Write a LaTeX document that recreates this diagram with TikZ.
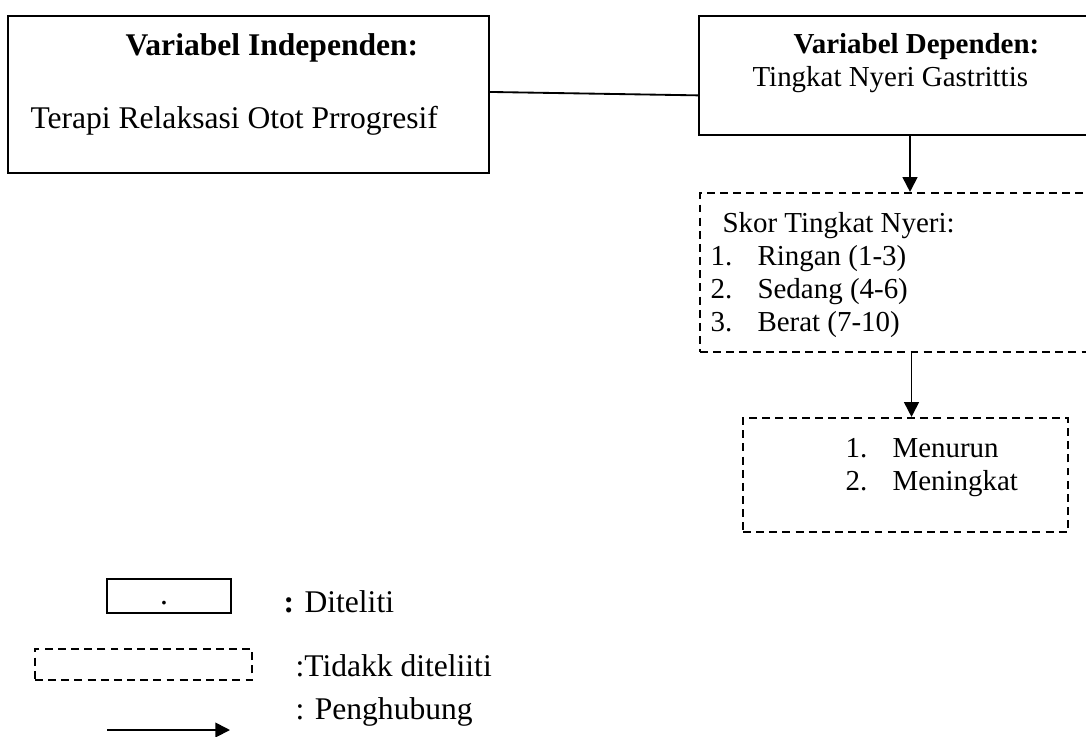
\documentclass[tikz,border=0pt]{standalone}
\usepackage{fontspec}
\setmainfont{Liberation Serif}
\usetikzlibrary{arrows.meta,positioning,calc,fit}
\tikzset{
  >={Triangle[length=5.6pt,width=5.6pt]},
  box/.style={draw=black,line width=0.8pt,inner sep=0pt},
  dashed box/.style={box,dash pattern=on 3pt off 2pt},
  flow/.style={->,line width=0.7pt},
  tag/.style={anchor=base west,inner sep=0pt,font=\fontsize{11}{13}\selectfont},
  big tag/.style={tag,font=\fontsize{12}{14}\selectfont},
}
\begin{document}
\begin{tikzpicture}[x=0.38pt,y=-0.38pt]
  \clip (0,0) rectangle (1086,736);
  % variables
  \node[box,fit={(8,16) (489,173)}] (indep) {};
  \node[big tag] (indep-h) at (125,55) {\bfseries Variabel Independen:};
  \node[big tag] (indep-t) at (30,128) {Terapi Relaksasi Otot Prrogresif};
  \node[box,fit={(699,16) (1095,135)}] (dep) {};
  \node[tag] (dep-h) at (793,53) {\bfseries Variabel Dependen:};
  \node[tag] (dep-t) at (752,86) {Tingkat Nyeri Gastrittis};
  \draw[line width=0.7pt] ($(indep.north east)!0.484!(indep.south east)$) -- ($(dep.north west)!0.664!(dep.south west)$);
  % score
  \node[dashed box,fit={(700,193) (1095,352)}] (score) {};
  \node[tag] (score-h) at (722,232) {Skor Tingkat Nyeri:};
  \foreach \n/\t [count=\i] in {1./Ringan (1-3),2./Sedang (4-6),3./Berat (7-10)}{
    \node[tag] (sn\i) at (710,232+\i*33) {\n};
    \node[tag] (st\i) at (757,232+\i*33) {\t};
  }
  \draw[flow] ($(dep.south)+(13,0)$) coordinate (d1) -- (score.north -| d1);
  % result
  \node[dashed box,fit={(743,418) (1068,532)}] (result) {};
  \foreach \t [count=\i] in {Menurun,Meningkat}{
    \node[tag] (rn\i) at (845,424+\i*33) {\i.};
    \node[tag] (rt\i) at (892,424+\i*33) {\t};
  }
  \draw[flow] ($(score.south)+(14,0)$) coordinate (s1) -- (result.north -| s1);
  % legend
  \node[box,fit={(107,579) (231,613)}] (key1) {};
  \node[big tag,anchor=base] (key1-dot) at (164,604) {.};
  \node[big tag] (key1-t) at (283,612) {\textbf{:} Diteliti};
  \node[dashed box,fit={(35,649) (252,680)}] (key2) {};
  \node[big tag] (key2-t) at (295,676) {:Tidakk diteliiti};
  \coordinate (key3a) at (107,730);
  \coordinate (key3b) at (230,730);
  \draw[flow] (key3a) -- (key3b);
  \node[big tag] (key3-t) at (295,719) {: Penghubung};
\end{tikzpicture}
\end{document}
